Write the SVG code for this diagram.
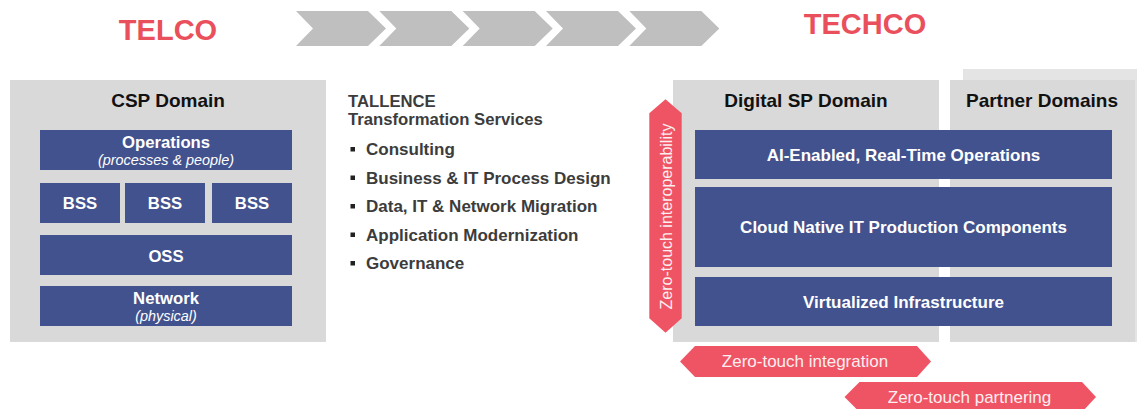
<svg xmlns="http://www.w3.org/2000/svg" width="1137" height="409" viewBox="0 0 1137 409">
<style>
text{font-family:"Liberation Sans",Arial,sans-serif}
.title{font-size:29px;font-weight:bold;fill:#ea4f5c;text-anchor:middle}
.dom{fill:#d9d9d9}
.blk{fill:#42528e}
.h{font-size:19px;font-weight:bold;fill:#111;text-anchor:middle}
.bt{font-size:16.7px;font-weight:bold;fill:#fff;text-anchor:middle}
.bt2{font-size:17px;font-weight:bold;fill:#fff;text-anchor:middle}
.it{font-size:14.4px;font-style:italic;fill:#fff;text-anchor:middle}
.mid{font-size:17px;font-weight:bold;fill:#3c3c3c}
.midh{font-size:16.7px;font-weight:bold;fill:#3c3c3c}
.red{fill:#ef5464}
.rt{font-size:17px;fill:#fdeef0;text-anchor:middle}
.chev{fill:#bfbfbf}
</style>
<g id="banner">
<text class="title" x="168" y="40">TELCO</text>
<text class="title" x="865" y="34">TECHCO</text>
<polygon class="chev" points="296,11 368,11 386,28.5 368,46 296,46 313,28.5"/>
<polygon class="chev" points="379.3,11 451.3,11 469.3,28.5 451.3,46 379.3,46 396.3,28.5"/>
<polygon class="chev" points="462.7,11 534.7,11 552.7,28.5 534.7,46 462.7,46 479.7,28.5"/>
<polygon class="chev" points="546,11 618,11 636,28.5 618,46 546,46 563,28.5"/>
<polygon class="chev" points="629.3,11 701.3,11 719.3,28.5 701.3,46 629.3,46 646.3,28.5"/>
</g>
<g id="csp-domain">
<rect class="dom" x="10" y="80" width="316" height="262"/>
<text class="h" x="168" y="106.5">CSP Domain</text>
</g>
<g id="operations">
<rect class="blk" x="40" y="130" width="252" height="40"/>
<text class="bt" x="166" y="148">Operations</text>
<text class="it" x="166" y="165">(processes &amp; people)</text>
</g>
<g id="bss1"><rect class="blk" x="40" y="183" width="80" height="40"/><text class="bt" x="80" y="209">BSS</text></g>
<g id="bss2"><rect class="blk" x="125" y="183" width="80" height="40"/><text class="bt" x="165" y="209">BSS</text></g>
<g id="bss3"><rect class="blk" x="212" y="183" width="80" height="40"/><text class="bt" x="252" y="209">BSS</text></g>
<g id="oss"><rect class="blk" x="40" y="235" width="252" height="40"/><text class="bt" x="166" y="261.5">OSS</text></g>
<g id="network">
<rect class="blk" x="40" y="286" width="252" height="40"/>
<text class="bt" x="166" y="304">Network</text>
<text class="it" x="166" y="321">(physical)</text>
</g>
<g id="tallence">
<text class="midh" x="348" y="106.5">TALLENCE</text>
<text class="midh" x="348" y="125">Transformation Services</text>
<rect x="350.5" y="147" width="4.5" height="4.5" fill="#222"/>
<text class="mid" x="366" y="155">Consulting</text>
<rect x="350.5" y="175.5" width="4.5" height="4.5" fill="#222"/>
<text class="mid" x="366" y="183.5">Business &amp; IT Process Design</text>
<rect x="350.5" y="204" width="4.5" height="4.5" fill="#222"/>
<text class="mid" x="366" y="212">Data, IT &amp; Network Migration</text>
<rect x="350.5" y="232.5" width="4.5" height="4.5" fill="#222"/>
<text class="mid" x="366" y="240.5">Application Modernization</text>
<rect x="350.5" y="261" width="4.5" height="4.5" fill="#222"/>
<text class="mid" x="366" y="269">Governance</text>
</g>
<g id="partner-domains">
<rect x="963" y="69" width="174" height="273" fill="#e4e4e4"/>
<rect class="dom" x="950" y="80" width="185" height="262"/>
<text class="h" x="1042" y="107">Partner Domains</text>
</g>
<g id="digital-sp-domain">
<rect class="dom" x="673" y="80" width="266" height="262"/>
<text class="h" x="806" y="107">Digital SP Domain</text>
</g>
<g id="ai-ops"><rect class="blk" x="695" y="130" width="417" height="49"/><text class="bt2" x="903.5" y="161">AI-Enabled, Real-Time Operations</text></g>
<g id="cloud-native"><rect class="blk" x="695" y="187" width="417" height="80"/><text class="bt2" x="903.5" y="233">Cloud Native IT Production Components</text></g>
<g id="virtualized"><rect class="blk" x="695" y="277" width="417" height="49"/><text class="bt2" x="903.5" y="308">Virtualized Infrastructure</text></g>
<g id="connectors">
<g id="zt-interop">
<polygon class="red" points="665.5,99.3 681.7,113.3 681.7,318.3 665.5,332.7 649.3,318.3 649.3,113.3"/>
<text class="rt" style="font-size:16px" transform="translate(671.5,216.5) rotate(-90)">Zero-touch interoperability</text>
</g>
<g id="zt-integration">
<polygon class="red" points="680,361.5 695,346 917,346 931,361.5 917,377 695,377"/>
<text class="rt" x="805" y="367">Zero-touch integration</text>
</g>
<g id="zt-partnering">
<polygon class="red" points="844.5,397 859.5,382 1082,382 1096,397 1082,412 859.5,412"/>
<text class="rt" x="969.5" y="402.5">Zero-touch partnering</text>
</g>
</g>
</svg>
